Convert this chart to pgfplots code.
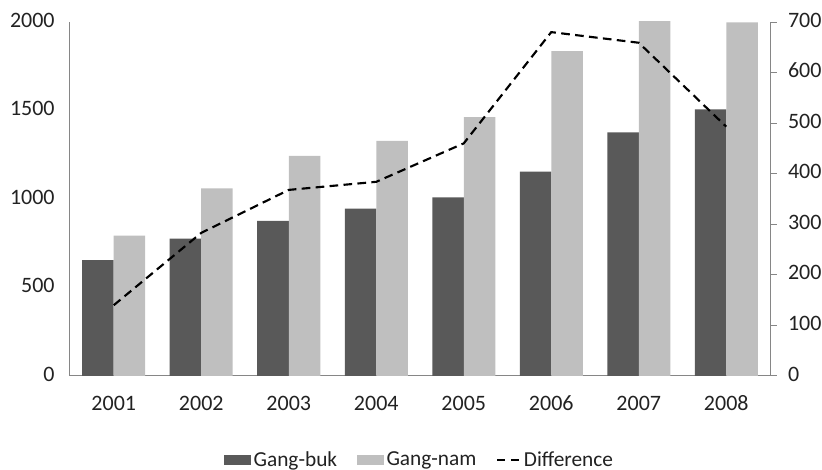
\documentclass[border=0pt]{standalone}
\usepackage{pgfplots}
\pgfplotsset{compat=1.18}
\usepackage{fontspec}
\setmainfont{Carlito}
\definecolor{darkbar}{HTML}{595959}
\definecolor{lightbar}{HTML}{BFBFBF}
\definecolor{axisgray}{HTML}{868686}
\definecolor{txt}{HTML}{222222}
\begin{document}
\begin{tikzpicture}
\useasboundingbox (-52.5pt,-70.5pt) rectangle (564pt,282pt);
\pgfplotsset{
  every axis/.append style={
    scale only axis, width=525pt, height=265.5pt,
    xmin=-0.5, xmax=7.5,
    /pgf/number format/assume math mode=true,
    /pgf/number format/1000 sep={},
    ticklabel style={font=\fontsize{16.5}{19}\selectfont, text=txt},
    typeset ticklabels with strut,
    axis line style={axisgray, line width=0.75pt},
  }
}
\begin{axis}[
  ymin=0, ymax=2000, ytick={0,500,...,2000},
  xtick={0,...,7},
  xticklabels={2001,2002,2003,2004,2005,2006,2007,2008},
  axis y line*=left, axis x line*=bottom,
  major tick length=0pt,
  yticklabel style={xshift=-8pt},
  xticklabel style={yshift=-9pt},
  ybar=0pt, bar width=0.36,
  legend style={draw=none, at={(0.5,-0.237)}, anchor=center, legend columns=3,
    font=\fontsize{16}{19}\selectfont, text=txt,
    /tikz/every even column/.append style={column sep=13pt}},
  legend cell align=left,
]
\addplot[draw=none, fill=darkbar,
  legend image code/.code={\fill[darkbar] (0pt,-3.75pt) rectangle (20pt,3.75pt);}]
  coordinates {(0,655) (1,776) (2,876) (3,945) (4,1009) (5,1154) (6,1377) (7,1507)};
\addlegendentry{Gang-buk}
\addplot[draw=none, fill=lightbar,
  legend image code/.code={\fill[lightbar] (0pt,-3.75pt) rectangle (20pt,3.75pt);}]
  coordinates {(0,793) (1,1060) (2,1243) (3,1328) (4,1463) (5,1836) (6,2036) (7,1998)};
\addlegendentry{Gang-nam}
\addlegendimage{legend image code/.code={\draw[black, line width=1.6pt, dash pattern=on 6pt off 4pt] (0pt,0pt) -- (17pt,0pt);}}
\addlegendentry{Difference}
\end{axis}
\begin{axis}[
  ymin=0, ymax=700, ytick={0,100,...,700},
  axis y line*=right, hide x axis,
  tick align=outside, major tick length=5pt,
  ytick style={axisgray, line width=0.75pt},
  yticklabel style={xshift=5pt},
]
\addplot[black, line width=1.6pt, dash pattern=on 6.5pt off 4pt]
  coordinates {(0,140) (1,283) (2,368) (3,384) (4,460) (5,680) (6,659) (7,493)};
\end{axis}
\end{tikzpicture}
\end{document}
